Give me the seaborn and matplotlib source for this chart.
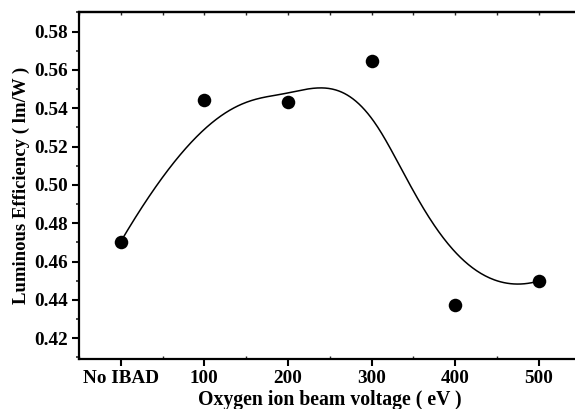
import numpy as np
import pandas as pd
import matplotlib
matplotlib.use('Agg')
import matplotlib.pyplot as plt
import seaborn as sns
from matplotlib.ticker import MultipleLocator

# data
categories = ['No IBAD', '100', '200', '300', '400', '500']
efficiency = [0.4704, 0.5444, 0.5435, 0.5649, 0.4374, 0.4499]
y_ticks = [0.42, 0.44, 0.46, 0.48, 0.50, 0.52, 0.54, 0.56, 0.58]

pos = np.arange(len(categories), dtype=float)
df = pd.DataFrame({'pos': pos, 'eff': efficiency})


def bspline(ctrl_x, ctrl_y, degree=3, n=400):
    # clamped uniform B-spline with the data points as control points
    m = len(ctrl_x)
    inner = np.arange(1, m - degree)
    knots = np.concatenate([np.zeros(degree + 1), inner, np.full(degree + 1, m - degree)]).astype(float)
    t = np.linspace(0, m - degree, n)
    t[-1] -= 1e-9
    N = np.zeros((n, len(knots) - 1))
    for i in range(len(knots) - 1):
        N[:, i] = (t >= knots[i]) & (t < knots[i + 1])
    for k in range(1, degree + 1):
        Nn = np.zeros((n, len(knots) - 1 - k))
        for i in range(len(knots) - 1 - k):
            a = 0.0
            d1 = knots[i + k] - knots[i]
            d2 = knots[i + k + 1] - knots[i + 1]
            if d1 > 0:
                a = a + (t - knots[i]) / d1 * N[:, i]
            if d2 > 0:
                a = a + (knots[i + k + 1] - t) / d2 * N[:, i + 1]
            Nn[:, i] = a
        N = Nn
    return N @ np.asarray(ctrl_x), N @ np.asarray(ctrl_y)


cx, cy = bspline(pos, efficiency)
curve = pd.DataFrame({'x': cx, 'y': cy})

sns.set_theme(style='ticks')
plt.rcParams['font.family'] = ['Liberation Serif', 'DejaVu Serif']
plt.rcParams['font.weight'] = 'bold'
plt.rcParams['axes.labelcolor'] = 'black'

fig = plt.figure(figsize=(5.75, 4.09), dpi=100)
ax = fig.add_axes([0.1372, 0.1222, 0.8727, 0.848])

sns.lineplot(data=curve, x='x', y='y', sort=False, color='black', linewidth=1.1, ax=ax)
sns.scatterplot(data=df, x='pos', y='eff', color='black', s=95, edgecolor='black', linewidth=0, ax=ax, zorder=3)

ax.set_xlim(-0.5, 5.5)
ax.set_ylim(0.4092, 0.5901)
ax.set_xticks(pos)
ax.set_xticklabels(categories)
ax.set_yticks(y_ticks)
ax.set_yticklabels([f'{v:.2f}' for v in y_ticks])
ax.xaxis.set_minor_locator(MultipleLocator(0.5))
ax.yaxis.set_minor_locator(MultipleLocator(0.01))

for sp in ax.spines.values():
    sp.set_linewidth(1.6)
    sp.set_color('black')

ax.tick_params(axis='both', which='major', labelsize=13.8, width=1.5, color='black', labelcolor='black')
ax.tick_params(axis='x', which='major', direction='out', length=5, pad=3)
ax.tick_params(axis='x', which='minor', direction='in', length=2, width=1)
ax.tick_params(axis='y', which='major', direction='out', length=5, pad=3)
ax.tick_params(axis='y', which='minor', direction='out', length=2.5, width=1.2)

top = ax.secondary_xaxis('top')
top.set_xticks(np.arange(-0.5, 5.6, 0.5))
top.tick_params(direction='in', length=2.5, width=1, labeltop=False)
top.spines['top'].set_linewidth(1.6)

for lab in ax.get_xticklabels() + ax.get_yticklabels():
    lab.set_fontweight('bold')

ax.set_xlabel('Oxygen ion beam voltage ( eV )', fontsize=14.2, fontweight='bold', color='black', labelpad=2)
ax.set_ylabel('Luminous Efficiency ( lm/W )', fontsize=13.5, fontweight='bold', color='black', labelpad=3)

fig.savefig('out.png', dpi=100)
